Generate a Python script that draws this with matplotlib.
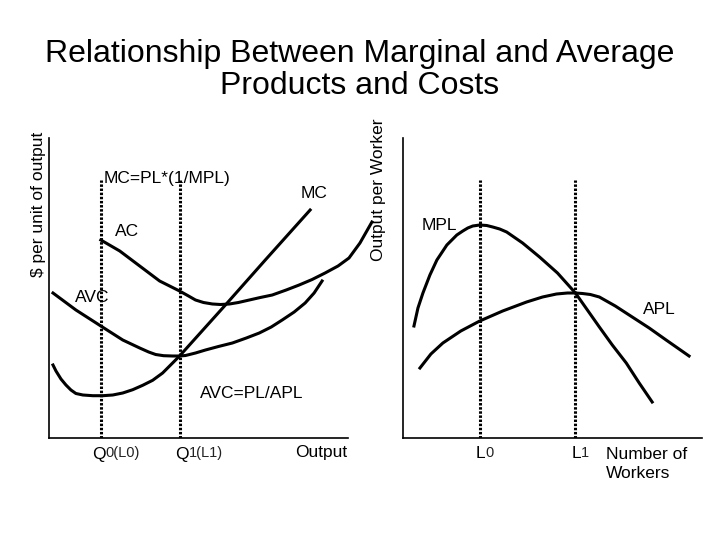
import matplotlib
matplotlib.use('Agg')
import matplotlib.pyplot as plt

plt.rcParams['font.family'] = ['Liberation Sans', 'DejaVu Sans']

#-----------------DATA-----------------

# cost side (left panel), units are output / $ per unit
mc_x = [4, 7, 12, 17, 22, 27, 34, 44, 54, 64, 74, 84, 94, 104, 114, 122, 131,
        177, 217, 262]
mc_y = [73, 67, 59, 53, 48, 44.5, 43, 42.3, 42.3, 43, 45, 48.3, 52.7, 57.7,
        65, 73, 82, 133, 178, 228]

avc_x = [4, 27, 52, 74, 91, 100, 107, 115, 124, 131, 137, 147, 157, 170, 184,
         198, 211, 223, 234, 246, 257, 266, 274]
avc_y = [145, 128, 112, 98, 90, 86, 83.5, 82.3, 82, 82, 82.5, 85, 88, 91.5, 95,
         100, 105, 111, 118, 126, 135, 145, 157]

ac_x = [52, 71, 91, 111, 131, 140, 147, 155, 164, 172, 181, 190, 201, 212, 224,
        238, 251, 264, 277, 290, 301, 312, 324]
ac_y = [198, 187, 172, 157, 147, 142, 138, 135.5, 134, 133.5, 134, 135.5, 138,
        140.5, 143, 148, 153, 158.5, 165, 172, 180, 195, 216]

q_marks = [52, 131]
q_names = ['0(L0)', '1(L1)']

# product side (right panel), units are workers / output per worker
mpl_x = [11, 15, 20, 27, 34, 44, 54, 60, 65, 70, 77, 84, 90, 97, 104, 120,
         137, 155, 173, 185, 197, 210, 224, 237, 250]
mpl_y = [112, 130, 145, 163, 178, 193, 203, 207, 210, 212, 213, 212.5, 211,
         209, 206, 195, 181, 165, 145, 128, 111, 93, 75, 55, 36]

apl_x = [17, 28, 40, 58, 77, 100, 124, 140, 154, 165, 173, 180, 188, 197, 213,
         230, 247, 264, 287]
apl_y = [70, 84, 95, 107, 117, 127, 136, 141, 144, 145, 145, 144.5, 143.5, 141,
         132, 121, 110, 98, 82]

l_marks = [77, 173]
l_names = ['0', '1']

#-----------------GRAPH-----------------

fig = plt.figure(figsize=(7.2, 5.4), dpi=100)
ax1 = fig.add_axes([49 / 720, 102 / 540, 299 / 720, 300 / 540])
ax2 = fig.add_axes([403 / 720, 102 / 540, 299 / 720, 300 / 540])

for ax in (ax1, ax2):
    ax.set_xlim(0, 300)
    ax.set_ylim(0, 300)
    ax.spines['top'].set_visible(False)
    ax.spines['right'].set_visible(False)
    ax.spines['left'].set_linewidth(1.2)
    ax.spines['bottom'].set_linewidth(1.2)
    ax.set_xticks([])
    ax.set_yticks([])

lw = 2.2
dots = (0, (0.8, 0.55))

# left panel
ax1.plot(mc_x, mc_y, color='black', lw=lw, solid_joinstyle='round')
ax1.plot(avc_x, avc_y, color='black', lw=lw, solid_joinstyle='round')
ax1.plot(ac_x, ac_y, color='black', lw=lw, solid_joinstyle='round', clip_on=False)
for q in q_marks:
    ax1.plot([q, q], [0, 258], color='black', lw=2.2, linestyle=dots)

tsize = 12.5
ax1.text(55, 260, 'MC=PL*(1/MPL)', fontsize=tsize, ha='left', va='center')
ax1.text(266, 244, 'MC', fontsize=tsize, ha='center', va='center')
ax1.text(78, 207, 'AC', fontsize=tsize, ha='center', va='center')
ax1.text(43, 140, 'AVC', fontsize=tsize, ha='center', va='center')
ax1.text(203, 45, 'AVC=PL/APL', fontsize=tsize, ha='center', va='center')
ax1.text(299, -15, 'Output', fontsize=tsize, ha='right', va='center', clip_on=False)
for q, name, x0 in zip(q_marks, q_names, [43, 127]):
    t = ax1.text(x0, -16, 'Q', fontsize=tsize, ha='left', va='center')
    ax1.annotate(name, xy=(1, 0.12), xycoords=t, fontsize=10.5,
                 ha='left', va='bottom', color='#222222')
ax1.text(-11, 234, r'\$ per unit of output', fontsize=tsize,
         rotation=90, ha='center', va='center', clip_on=False)

# right panel
ax2.plot(mpl_x, mpl_y, color='black', lw=lw, solid_joinstyle='round')
ax2.plot(apl_x, apl_y, color='black', lw=lw, solid_joinstyle='round')
for l in l_marks:
    ax2.plot([l, l], [0, 258], color='black', lw=2.2, linestyle=dots)

ax2.text(36, 213, 'MPL', fontsize=tsize, ha='center', va='center')
ax2.text(257, 128, 'APL', fontsize=tsize, ha='center', va='center')
for l, name in zip(l_marks, l_names):
    t = ax2.text(l - 4, -16, 'L', fontsize=tsize, ha='left', va='center')
    ax2.annotate(name, xy=(1, 0.12), xycoords=t, fontsize=10.5,
                 ha='left', va='bottom', color='#222222')
ax2.text(204, -26, 'Number of\nWorkers', fontsize=tsize, ha='left', va='center',
         linespacing=1.35)
ax2.text(-25, 248, 'Output per Worker', fontsize=tsize, rotation=90,
         ha='center', va='center', clip_on=False)

fig.text(0.5, 1 - 70 / 540, 'Relationship Between Marginal and Average\nProducts and Costs',
         fontsize=23, ha='center', va='center', linespacing=1.05)

fig.savefig('out.png', dpi=100)
